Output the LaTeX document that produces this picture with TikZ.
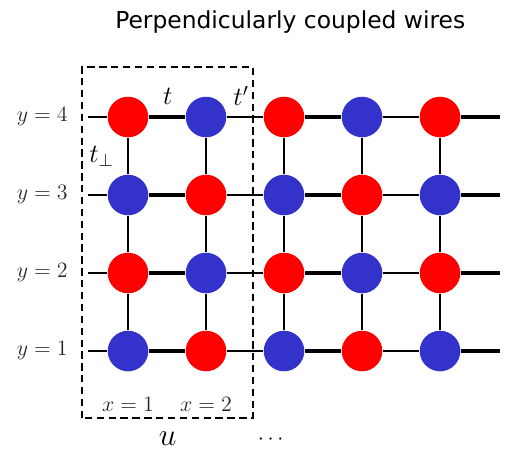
\documentclass[tikz,border=0pt]{standalone}
\usepackage{fontspec}
\newfontfamily\titlefont{DejaVu Sans}
\definecolor{sitered}{RGB}{255,0,0}
\definecolor{siteblue}{RGB}{51,51,204}

\begin{document}
\begin{tikzpicture}[x=1.5cm, y=1.5cm,
  site/.style={circle, inner sep=0pt, minimum size=0.78cm},
  redsite/.style={site, fill=sitered},
  bluesite/.style={site, fill=siteblue},
  hopthin/.style={line width=1.1pt},
  hopthick/.style={line width=2.6pt},
  lbl/.style={font=\fontsize{11.5}{13}\selectfont, text=black!85}]

% Frame
\useasboundingbox (-0.641,-0.397) rectangle (6.038,5.5);

% Controls
\def\xleft{0.49}
\def\xright{5.77}

% Sites: colour alternates with x+y
\foreach \j in {1,...,4} {
  \foreach \i in {1,...,5} {
    \pgfmathtruncatemacro{\odd}{mod(\i+\j,2)}
    \ifnum\odd=1
      \node[redsite] (s\i\j) at (\i,\j) {};
    \else
      \node[bluesite] (s\i\j) at (\i,\j) {};
    \fi
  }
  \coordinate (w\j) at (\xleft,\j);
  \coordinate (e\j) at (\xright,\j);
  \node[lbl, anchor=east] (ylab\j) at (0.31,\j) {$y=\j$};
}

% Wires: t (thick) and t' (thin) alternate
\foreach \j in {1,...,4} {
  \draw[hopthin] (w\j) -- (s1\j);
  \foreach \i in {1,...,4} {
    \pgfmathtruncatemacro{\nx}{\i+1}
    \pgfmathtruncatemacro{\odd}{mod(\i,2)}
    \ifnum\odd=1
      \draw[hopthick] (s\i\j) -- (s\nx\j);
    \else
      \draw[hopthin] (s\i\j) -- (s\nx\j);
    \fi
  }
  \draw[hopthick] (s5\j) -- (e\j);
}

% Perpendicular coupling t_perp
\foreach \i in {1,...,5} {
  \foreach \j in {1,...,3} {
    \pgfmathtruncatemacro{\ny}{\j+1}
    \draw[hopthin] (s\i\j) -- (s\i\ny);
  }
}

% Unit cell
\draw[dashed, line width=1pt, dash pattern=on 4pt off 2.5pt] (0.41,0.14) rectangle (2.60,4.64);

% Labels
\node[font=\Large] (tlab) at (1.51,4.27) {$t$};
\node[font=\Large] (tplab) at (2.45,4.27) {$t'$};
\node[font=\Large] (tperp) at (0.66,3.50) {$t_\perp$};
\node[lbl] (x1) at (1,0.32) {$x=1$};
\node[lbl] (x2) at (2,0.32) {$x=2$};
\node[font=\LARGE] (ulab) at (1.51,-0.13) {$u$};
\node[font=\large] (dots) at (2.83,-0.13) {$\cdots$};
\node[font=\titlefont\fontsize{12.8}{15}\selectfont] (title) at (3.08,5.22) {Perpendicularly coupled wires};

\end{tikzpicture}
\end{document}
